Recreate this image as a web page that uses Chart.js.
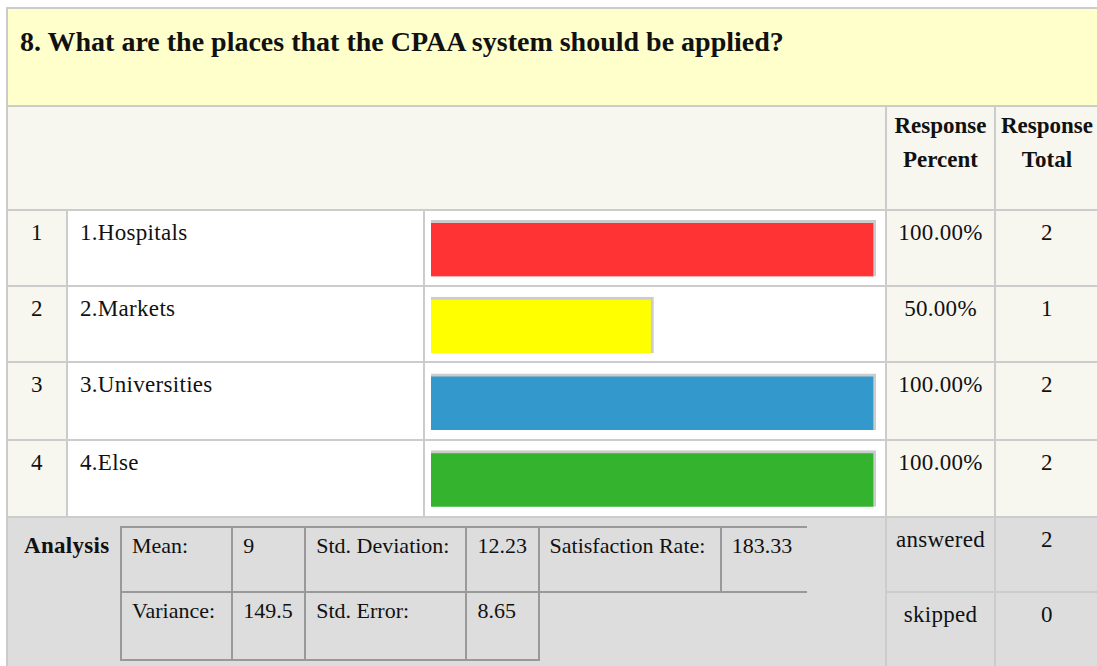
<!DOCTYPE html>
<html>
<head>
<meta charset="UTF-8">
<meta name="viewport" content="width=device-width">
<title>8. CPAA places</title>
<script src="https://cdn.jsdelivr.net/npm/chart.js@4.4.1/dist/chart.umd.min.js"></script>
<style>
	html, body { margin: 0; padding: 0; overflow: hidden; background: #fff; }
	body { font-family: "Liberation Serif", "Times New Roman", serif; color: #111; }
	#survey { position: absolute; left: 6px; top: 7px; width: 1094px; border-collapse: collapse; table-layout: fixed; }
	#survey td, #survey th { border: 2px solid #ccc; padding: 0; vertical-align: top; font-size: 23px; line-height: 26px; letter-spacing: 0.3px; }
	#survey th { font-weight: bold; line-height: 34px; padding-top: 2px; text-align: center; background: #f7f7f0; letter-spacing: 0; }
	#survey td.title { background: #ffffcc; font-size: 28px; font-weight: bold; line-height: 32px; padding: 17px 0 0 12px; letter-spacing: 0; }
	#survey td.blank { background: #f7f7f0; }
	#survey td.num { background: #f7f7f0; text-align: center; padding-top: 9px; }
	#survey td.label { background: #fff; padding: 9px 0 0 12px; }
	#survey td.bar { background: #fff; }
	#survey td.pct, #survey td.tot { background: #f7f7f0; text-align: center; padding-top: 9px; }
	#survey td.grey { background: #ddd; text-align: center; padding-top: 9px; }
	#survey td.analysis { background: #ddd; }
	.wrap { position: relative; height: 140px; }
	.wrap b { position: absolute; left: 16px; top: 15px; font-size: 23px; line-height: 26px; }
	#stats { position: absolute; left: 112px; top: 8px; width: 687px; border-collapse: collapse; table-layout: fixed; }
	#stats td { border: 2px solid #999; border-right: none; padding: 5px 0 0 10px; vertical-align: top; font-size: 22px; line-height: 26px; letter-spacing: 0; white-space: nowrap; }
	#stats td.end { border-right: 2px solid #999; }
	#barBox { position: absolute; left: 424px; top: 210px; width: 462px; height: 307px; }
</style>
</head>
<body>
	<table id="survey"></table>
	<div id="barBox"><canvas id="bars"></canvas></div>
<script>
	// 数据
	var question = '8. What are the places that the CPAA system should be applied?';
	var categories = ['1.Hospitals', '2.Markets', '3.Universities', '4.Else'];
	var percents = [100, 50, 100, 100];
	var totals = [2, 1, 2, 2];
	var answered = 2;
	var skipped = 0;
	var statNames1 = ['Mean:', 'Std. Deviation:', 'Satisfaction Rate:'];
	var statValues1 = ['9', '12.23', '183.33'];
	var statNames2 = ['Variance:', 'Std. Error:'];
	var statValues2 = ['149.5', '8.65'];
	var barColors = ['#ff3333', '#ffff00', '#3399cc', '#33b32e'];

	// 表格
	var rowH = [76, 76, 78, 77];
	var html = '<colgroup><col style="width:60px"><col style="width:357px"><col style="width:462px"><col style="width:109px"><col style="width:104px"></colgroup>';
	html += '<tr style="height:98px"><td class="title" colspan="5">' + question + '</td></tr>';
	html += '<tr style="height:104px"><td class="blank" colspan="3"></td><th>Response<br>Percent</th><th>Response<br>Total</th></tr>';
	for (var i = 0; i < categories.length; i++) {
		html += '<tr style="height:' + rowH[i] + 'px">' +
			'<td class="num">' + (i + 1) + '</td>' +
			'<td class="label">' + categories[i] + '</td>' +
			'<td class="bar"></td>' +
			'<td class="pct">' + percents[i].toFixed(2) + '%</td>' +
			'<td class="tot">' + totals[i] + '</td></tr>';
	}
	var stats = '<colgroup><col style="width:111px"><col style="width:73px"><col style="width:161px"><col style="width:72px"><col style="width:182px"><col style="width:86px"></colgroup>';
	stats += '<tr style="height:65px">';
	for (var j = 0; j < statNames1.length; j++) {
		stats += '<td>' + statNames1[j] + '</td><td>' + statValues1[j] + '</td>';
	}
	stats += '</tr><tr style="height:68px">';
	for (var k = 0; k < statNames2.length; k++) {
		stats += '<td>' + statNames2[k] + '</td><td' + (k == statNames2.length - 1 ? ' class="end"' : '') + '>' + statValues2[k] + '</td>';
	}
	stats += '</tr>';
	html += '<tr style="height:75px"><td class="analysis" colspan="3" rowspan="2"><div class="wrap"><b>Analysis</b><table id="stats">' + stats + '</table></div></td>' +
		'<td class="grey">answered</td><td class="grey">' + answered + '</td></tr>';
	html += '<tr style="height:80px"><td class="grey">skipped</td><td class="grey">' + skipped + '</td></tr>';
	document.getElementById('survey').innerHTML = html;

	// 条形图
	var ctx = document.getElementById('bars').getContext('2d');
	var myChart = new Chart(ctx, {
		type: 'bar',
		data: {
			labels: categories,
			datasets: [{
				data: percents,
				backgroundColor: barColors,
				borderColor: '#cccccc',
				borderWidth: { top: 3, right: 3, bottom: 0, left: 0 },
				borderSkipped: false,
				barThickness: 56
			}]
		},
		options: {
			indexAxis: 'y',
			responsive: true,
			maintainAspectRatio: false,
			animation: false,
			events: [],
			layout: { padding: { left: 7, right: 10, top: 0, bottom: 0 } },
			scales: {
				x: { display: false, min: 0, max: 100 },
				y: { display: false }
			},
			plugins: { legend: { display: false }, tooltip: { enabled: false } }
		}
	});
</script>
</body>
</html>
